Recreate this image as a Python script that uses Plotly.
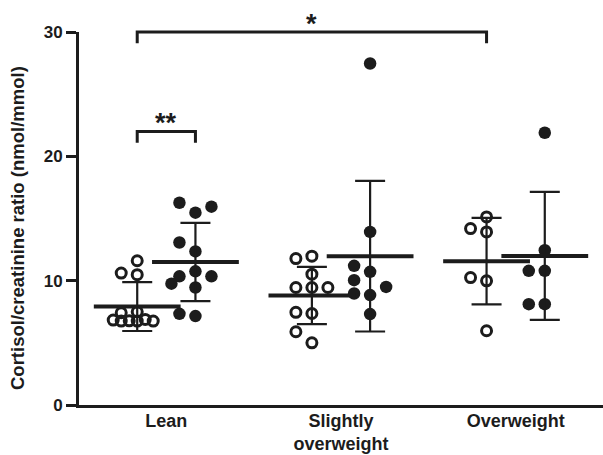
import math
import plotly.graph_objects as go

# ---------------- data ----------------
group_labels = ["Lean", "Slightly<br>overweight", "Overweight"]

lean_open = [10.48, 10.61, 11.6, 7.5, 7.42, 6.75, 6.77, 6.83, 6.75, 6.75, 6.88]
lean_filled = [15.47, 16.27, 15.95, 12.35, 13.07, 10.75, 10.35, 10.35, 9.45, 9.76, 7.15, 7.33]
slight_open = [11.97, 11.78, 10.52, 9.45, 9.45, 9.45, 7.36, 7.45, 5.0, 5.89]
slight_filled = [27.47, 13.92, 10.71, 11.19, 8.84, 10.04, 9.5, 8.97, 7.31]
over_open = [13.92, 15.13, 14.19, 9.99, 10.25, 5.97]
over_filled = [21.9, 12.45, 10.79, 10.79, 8.11, 8.11]

open_means = [7.92, 8.81, 11.57]
open_sds = [1.97, 2.30, 3.48]
filled_means = [11.50, 11.97, 11.99]
filled_sds = [3.15, 6.06, 5.15]

# significance brackets: column index left/right, level, label
sig_left = [0, 0]
sig_right = [1, 6]
sig_level = [22, 30]
sig_text = ["**", "*"]

y_ticks = [0, 10, 20, 30]
y_title = "Cortisol/creatinine ratio (nmol/mmol)"

# ---------------- layout constants ----------------
W, H = 603, 455
M_L, M_R, M_T, M_B = 79, 0, 32, 50
X_MIN, X_MAX = -1, 8
Y_MIN, Y_MAX = 0, 30
plot_w = W - M_L - M_R
plot_h = H - M_T - M_B
px_x = plot_w / (X_MAX - X_MIN)
px_y = plot_h / (Y_MAX - Y_MIN)

INK = "#1c1c1c"
FONT = "Arial, Liberation Sans, sans-serif"

open_pos = [3 * i for i in range(3)]
filled_pos = [3 * i + 1 for i in range(3)]


def swarm(values, center):
    """Greedy column scatter (pixel space) -> x positions in data units."""
    cands = [0, -16, 16, -8, 8, -24, 24]
    thr = 12.0
    placed = []
    xs = []
    for v in values:
        yp = v * px_y
        best, best_d = None, -1
        chosen = None
        for c in cands:
            dmin = min((math.hypot(c - px, yp - py) for px, py in placed), default=1e9)
            if dmin >= thr:
                chosen = c
                break
            if dmin > best_d + 1e-6:
                best_d, best = dmin, c
        if chosen is None:
            chosen = best
        placed.append((chosen, yp))
        xs.append(center + chosen / px_x)
    return xs


fig = go.Figure()

open_sets = [lean_open, slight_open, over_open]
filled_sets = [lean_filled, slight_filled, over_filled]

for vals, pos in zip(open_sets, open_pos):
    fig.add_trace(go.Scatter(
        x=swarm(vals, pos), y=vals, mode="markers",
        marker=dict(symbol="circle-open", size=10, color=INK,
                    line=dict(width=3, color=INK)),
        showlegend=False, hoverinfo="y"))

for vals, pos in zip(filled_sets, filled_pos):
    fig.add_trace(go.Scatter(
        x=swarm(vals, pos), y=vals, mode="markers",
        marker=dict(symbol="circle", size=12.5, color=INK),
        showlegend=False, hoverinfo="y"))

# mean lines with SD error bars
for pos, means, sds in [(open_pos, open_means, open_sds), (filled_pos, filled_means, filled_sds)]:
    fig.add_trace(go.Scatter(
        x=pos, y=means, mode="markers",
        marker=dict(symbol="line-ew", size=62, color=INK, line=dict(width=4, color=INK)),
        error_y=dict(type="data", array=sds, visible=True, width=15, thickness=2.2, color=INK),
        showlegend=False, hoverinfo="y"))

# significance brackets
drop = 0.9
shapes = []
annotations = []
for l, r, lev, txt in zip(sig_left, sig_right, sig_level, sig_text):
    y0 = (lev - Y_MIN) / (Y_MAX - Y_MIN)
    y1 = (lev - drop - Y_MIN) / (Y_MAX - Y_MIN)
    shapes.append(dict(
        type="path", xref="x", yref="paper",
        path=f"M {l},{y1} L {l},{y0} L {r},{y0} L {r},{y1}",
        line=dict(color=INK, width=3)))
    annotations.append(dict(
        x=(l + r) / 2, y=y0, xref="x", yref="paper", text=txt, showarrow=False,
        yanchor="bottom", yshift=-9, font=dict(family=FONT, size=27, color=INK, weight="bold")))

# y-axis title as a rotated annotation
annotations.append(dict(
    x=0, y=(H - M_B - 228) / plot_h, xref="paper", yref="paper",
    xshift=-(M_L - 17), text=y_title, textangle=-90, showarrow=False,
    xanchor="center", yanchor="middle",
    font=dict(family=FONT, size=18.5, color=INK, weight="bold")))

fig.update_layout(
    width=W, height=H,
    margin=dict(l=M_L, r=M_R, t=M_T, b=M_B),
    paper_bgcolor="white", plot_bgcolor="white",
    shapes=shapes, annotations=annotations,
    font=dict(family=FONT, color=INK),
    xaxis=dict(range=[X_MIN, X_MAX], showline=True, linewidth=3, linecolor=INK,
               showgrid=False, zeroline=False, ticks="", automargin=False,
               ticklabelstandoff=-3,
               tickvals=[3 * i + 0.5 for i in range(3)], ticktext=group_labels,
               tickfont=dict(family=FONT, size=18, color=INK, weight="bold")),
    yaxis=dict(range=[Y_MIN, Y_MAX], showline=True, linewidth=3, linecolor=INK,
               showgrid=False, zeroline=False, ticks="outside", ticklen=10,
               tickwidth=2.5, tickcolor=INK, tickvals=y_ticks, automargin=False,
               tickfont=dict(family=FONT, size=17, color=INK, weight="bold")),
)

fig.write_html("out.html", config={"displayModeBar": False},
               post_script="document.body.style.margin='0';")
